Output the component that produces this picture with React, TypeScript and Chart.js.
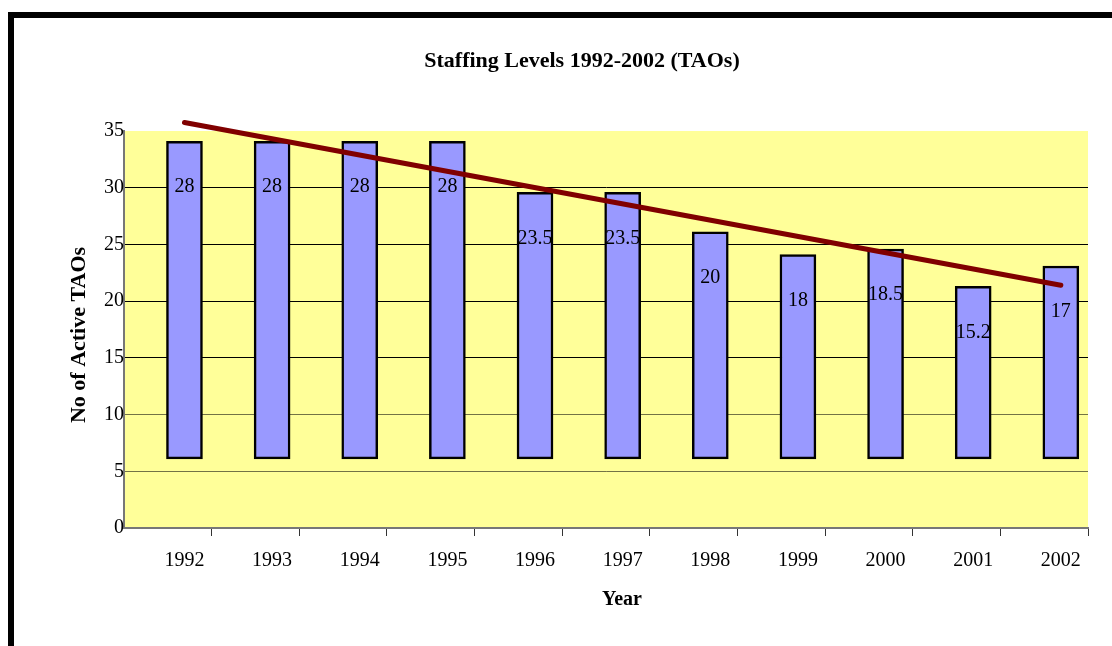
import React, { useEffect, useRef } from "react";
import { Chart, registerables } from "chart.js";

Chart.register(...registerables);

// ---- data ----
const years: string[] = ["1992", "1993", "1994", "1995", "1996", "1997", "1998", "1999", "2000", "2001", "2002"];
const activeTAOs: number[] = [28, 28, 28, 28, 23.5, 23.5, 20, 18, 18.5, 15.2, 17];
const barBase = 6.1; // bars float on this baseline in the original
const trendStart = 35.75; // trend line value at 1992
const trendEnd = 21.4; // trend line value at 2002
const yTicks: number[] = [0, 5, 10, 15, 20, 25, 30, 35];

const chartTitle = "Staffing Levels 1992-2002 (TAOs)";
const yTitle = "No of Active TAOs";
const xTitle = "Year";

const SERIF = "'Liberation Serif', 'Times New Roman', serif";

export default function App() {
  const ref = useRef<HTMLCanvasElement | null>(null);

  useEffect(() => {
    const canvas = ref.current;
    if (!canvas) return;

    const framePlugin = {
      id: "frame",
      beforeDraw(chart: any) {
        const { ctx, chartArea } = chart;
        ctx.save();
        ctx.fillStyle = "#ffffff";
        ctx.fillRect(0, 0, chart.width, chart.height);
        ctx.fillStyle = "#000000";
        ctx.fillRect(8, 12, 6, chart.height - 12);
        ctx.fillRect(8, 12, chart.width - 8, 6);
        ctx.fillStyle = "#FFFF99";
        ctx.fillRect(chartArea.left, chartArea.top, chartArea.right - chartArea.left, chartArea.bottom - chartArea.top);
        ctx.restore();
      },
      afterDraw(chart: any) {
        const { ctx } = chart;
        ctx.save();
        ctx.fillStyle = "#000";
        ctx.textAlign = "center";
        ctx.textBaseline = "middle";
        ctx.font = `bold 22px ${SERIF}`;
        ctx.fillText(chartTitle, 582, 61);
        ctx.font = `bold 20px ${SERIF}`;
        ctx.fillText(xTitle, 622, 600);
        ctx.translate(79, 335);
        ctx.rotate(-Math.PI / 2);
        ctx.font = `bold 22px ${SERIF}`;
        ctx.fillText(yTitle, 0, 0);
        ctx.restore();
      },
    };

    const labelPlugin = {
      id: "barLabels",
      afterDatasetsDraw(chart: any) {
        const meta = chart.getDatasetMeta(0);
        const { ctx } = chart;
        ctx.save();
        ctx.fillStyle = "#000";
        ctx.font = `20px ${SERIF}`;
        ctx.textAlign = "center";
        ctx.textBaseline = "middle";
        meta.data.forEach((el: any, i: number) => {
          ctx.fillText(String(activeTAOs[i]), el.x, el.y + 46);
        });
        ctx.restore();
      },
    };

    const xMin = -0.69;
    const xMax = 10.31;

    const chart = new Chart(canvas, {
      type: "bar",
      data: {
        datasets: [
          {
            type: "bar",
            label: "TAOs",
            data: activeTAOs.map((v, i) => ({ x: i, y: [barBase, barBase + v] })) as any,
            backgroundColor: "#9999FF",
            borderColor: "#000000",
            borderWidth: 2.5,
            borderSkipped: false,
            barThickness: 36,
            order: 1,
          },
          {
            type: "line",
            label: "Trend",
            data: [
              { x: 0, y: trendStart },
              { x: years.length - 1, y: trendEnd },
            ],
            borderColor: "#800000",
            borderWidth: 5,
            borderCapStyle: "round",
            pointRadius: 0,
            fill: false,
            clip: false,
            order: 0,
          } as any,
        ],
      },
      options: {
        responsive: false,
        animation: false,
        layout: { padding: { top: 131, right: 24, left: 0, bottom: 0 } },
        plugins: {
          legend: { display: false },
          tooltip: { enabled: false },
          title: { display: false },
        },
        scales: {
          x: {
            type: "linear",
            offset: false,
            min: xMin,
            max: xMax,
            afterBuildTicks(scale: any) {
              const t: any[] = [];
              for (let i = 0; i < years.length; i++) {
                t.push({ value: i });
                t.push({ value: i + 0.31 });
              }
              scale.ticks = t;
            },
            afterFit(scale: any) {
              scale.height = 118;
            },
            ticks: {
              autoSkip: false,
              maxRotation: 0,
              minRotation: 0,
              padding: 13,
              color: "#000",
              font: { family: SERIF, size: 20 },
              callback(value: any) {
                const v = Number(value);
                return Number.isInteger(v) ? years[v] : "";
              },
            },
            grid: {
              offset: false,
              drawOnChartArea: false,
              drawTicks: true,
              tickLength: 8,
              tickColor: (ctx: any) =>
                ctx.tick && Number.isInteger(ctx.tick.value) ? "rgba(0,0,0,0)" : "#333",
              tickWidth: 1,
            },
            border: { display: true, color: "#777", width: 2 },
          },
          y: {
            type: "linear",
            min: 0,
            max: 35,
            afterBuildTicks(scale: any) {
              scale.ticks = yTicks.map((v) => ({ value: v }));
            },
            afterFit(scale: any) {
              scale.width = 124;
            },
            ticks: {
              padding: 0,
              color: "#000",
              font: { family: SERIF, size: 20 },
            },
            grid: {
              drawTicks: false,
              lineWidth: 1,
              color: (ctx: any) => {
                const v = ctx.tick ? ctx.tick.value : 0;
                if (v === 0 || v === 35) return "rgba(0,0,0,0)";
                if (v <= 10) return "rgba(0,0,0,0.55)";
                return "#000";
              },
            },
            border: { display: true, color: "#777", width: 2 },
          },
        },
      },
      plugins: [framePlugin, labelPlugin],
    } as any);

    return () => chart.destroy();
  }, []);

  return (
    <div style={{ position: "fixed", left: 0, top: 0, width: 1112, height: 646 }}>
      <canvas ref={ref} width={1112} height={646} style={{ display: "block" }} />
    </div>
  );
}
